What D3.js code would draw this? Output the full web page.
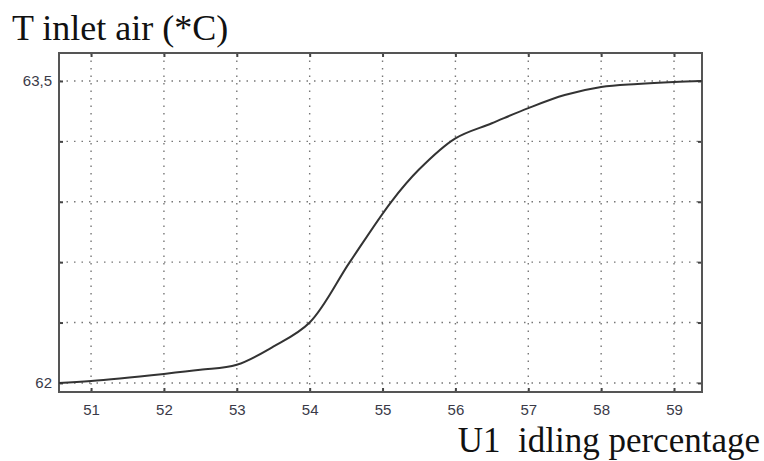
<!DOCTYPE html>
<html><head><meta charset="utf-8">
<script src="https://cdn.jsdelivr.net/npm/d3@7"></script>
<style>html,body{margin:0;padding:0;background:#fff;}svg{display:block;}</style>
</head><body>
<svg id="c" width="764" height="461"></svg>
<script>
const xValues = [50.56, 51, 52, 52.5, 53, 53.5, 54, 54.55, 55.12, 55.5, 56, 56.5, 57, 57.5, 58, 58.5, 59, 59.38];
const yValues = [62.0, 62.01, 62.045, 62.065, 62.09, 62.18, 62.3, 62.6, 62.9, 63.06, 63.215, 63.29, 63.365, 63.43, 63.47, 63.485, 63.495, 63.5];
const xTicks = [51, 52, 53, 54, 55, 56, 57, 58, 59];
const yTicks = [62, 62.3, 62.6, 62.9, 63.2, 63.5];
const yTickLabels = {"62": "62", "63.5": "63,5"};
const yLabel = "T inlet air (*C)";
const xLabel = "U1  idling percentage";

const svg = d3.select("#c");
const L = 59, R = 702, T = 53, B = 392;
const x = d3.scaleLinear().domain([50.56, 59.384]).range([L, R]);
const y = d3.scaleLinear().domain([61.955, 63.639]).range([B, T]);

const grid = svg.append("g");
grid.selectAll("line.v").data(xTicks).join("line")
  .attr("x1", d => x(d)).attr("x2", d => x(d)).attr("y1", T).attr("y2", B)
  .attr("stroke", "#777").attr("stroke-width", 1.4).attr("stroke-dasharray", "1.5,6");
grid.selectAll("line.h").data(yTicks).join("line")
  .attr("y1", d => y(d)).attr("y2", d => y(d)).attr("x1", L).attr("x2", R)
  .attr("stroke", "#777").attr("stroke-width", 1.4).attr("stroke-dasharray", "1.5,6");

const tl = 4;
const axB = svg.append("g").attr("transform", `translate(0,${B})`)
  .call(d3.axisBottom(x).tickValues(xTicks).tickSize(-tl).tickPadding(12).tickFormat(d3.format("d")));
const axT = svg.append("g").attr("transform", `translate(0,${T})`)
  .call(d3.axisTop(x).tickValues(xTicks).tickSize(-tl).tickFormat(""));
const axL = svg.append("g").attr("transform", `translate(${L},0)`)
  .call(d3.axisLeft(y).tickValues(yTicks).tickSize(-tl).tickPadding(7).tickFormat(d => yTickLabels[String(d)] || ""));
const axR = svg.append("g").attr("transform", `translate(${R},0)`)
  .call(d3.axisRight(y).tickValues(yTicks).tickSize(-tl).tickFormat(""));
[axB, axT, axL, axR].forEach(a => {
  a.select(".domain").remove();
  a.selectAll(".tick line").attr("stroke", "#444").attr("stroke-width", 2);
  a.selectAll(".tick text").attr("fill", "#3a3a48").style("font-family", "Arial, 'Liberation Sans', sans-serif").style("font-size", "15px");
});

svg.append("rect").attr("x", L).attr("y", T).attr("width", R - L).attr("height", B - T)
  .attr("fill", "none").attr("stroke", "#555").attr("stroke-width", 2);

const pts = xValues.map((v, i) => [v, yValues[i]]);
svg.append("path").datum(pts)
  .attr("fill", "none").attr("stroke", "#333").attr("stroke-width", 2)
  .attr("d", d3.line().x(d => x(d[0])).y(d => y(d[1])).curve(d3.curveCatmullRom.alpha(0.5)));

svg.append("text").attr("x", 12).attr("y", 40).text(yLabel)
  .style("font-family", "'Liberation Serif', 'Times New Roman', serif").style("font-size", "36px").attr("fill", "#111");
svg.append("text").attr("x", 760).attr("y", 452).attr("text-anchor", "end").text(xLabel)
  .style("white-space", "pre").attr("xml:space", "preserve")
  .style("font-family", "'Liberation Serif', 'Times New Roman', serif").style("font-size", "35px").attr("fill", "#111");
</script>
</body></html>
